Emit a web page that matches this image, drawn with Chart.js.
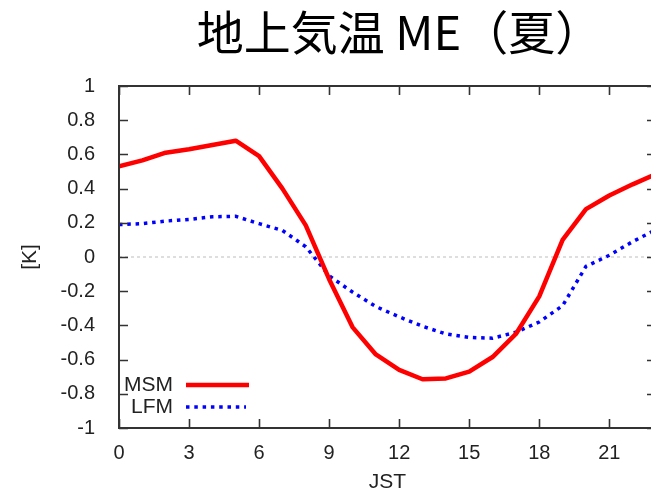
<!DOCTYPE html>
<html>
<head>
<meta charset="utf-8">
<script src="https://cdn.jsdelivr.net/npm/chart.js@4/dist/chart.umd.min.js"></script>
<style>
  html, body { margin: 0; padding: 0; background: #fff; overflow: hidden; }
  #wrap { width: 680px; height: 493px; }
</style>
</head>
<body>
<div id="wrap"><canvas id="chart" width="680" height="493"></canvas></div>
<script>
// 地上気温 ME (summer) – mean error by hour, MSM vs LFM

const chartTitle = "地上気温 ME（夏）";
const xTitle = "JST";
const yTitle = "[K]";
const seriesNames = ["MSM", "LFM"];

const hours = [0, 1, 2, 3, 4, 5, 6, 7, 8, 9, 10, 11, 12, 13, 14, 15, 16, 17, 18, 19, 20, 21, 22, 23];
const msm = [0.53, 0.565, 0.61, 0.63, 0.655, 0.68, 0.59, 0.40, 0.185, -0.13, -0.41, -0.57,
  -0.66, -0.715, -0.71, -0.67, -0.585, -0.45, -0.23, 0.10, 0.28, 0.36, 0.425, 0.485];
const lfm = [0.19, 0.195, 0.21, 0.22, 0.235, 0.238, 0.195, 0.155, 0.06, -0.11, -0.205, -0.29,
  -0.35, -0.405, -0.45, -0.47, -0.475, -0.44, -0.38, -0.285, -0.055, 0.01, 0.09, 0.16];

const xTicks = [0, 3, 6, 9, 12, 15, 18, 21];
const yTicks = [1, 0.8, 0.6, 0.4, 0.2, 0, -0.2, -0.4, -0.6, -0.8, -1];
const yTickLabels = ["1", "0.8", "0.6", "0.4", "0.2", "0", "-0.2", "-0.4", "-0.6", "-0.8", "-1"];

const textFont = '"Liberation Sans", Arial, sans-serif';
const textColor = "#222";

function toPoints(values) {
  return values.map((v, i) => ({ x: hours[i], y: v }));
}

// gnuplot-like frame: zero line, box, inward ticks on all sides, legend, title
const framePlugin = {
  id: "frame",
  beforeDatasetsDraw(chart) {
    const { ctx, chartArea, scales } = chart;
    const y0 = scales.y.getPixelForValue(0);
    ctx.save();
    ctx.strokeStyle = "#bdbdbd";
    ctx.lineWidth = 1;
    ctx.setLineDash([3, 3]);
    ctx.beginPath();
    ctx.moveTo(chartArea.left, y0);
    ctx.lineTo(chartArea.right, y0);
    ctx.stroke();
    ctx.restore();
  },
  afterDatasetsDraw(chart) {
    const { ctx, chartArea, scales } = chart;
    const { left, right, top, bottom } = chartArea;
    const tickLen = 9;

    ctx.save();
    ctx.strokeStyle = "#333";
    ctx.lineWidth = 1.6;
    ctx.beginPath();
    xTicks.forEach((v) => {
      const px = Math.round(scales.x.getPixelForValue(v)) + 0.5;
      ctx.moveTo(px, bottom);
      ctx.lineTo(px, bottom - tickLen);
      ctx.moveTo(px, top);
      ctx.lineTo(px, top + tickLen);
    });
    yTicks.forEach((v) => {
      const py = Math.round(scales.y.getPixelForValue(v)) + 0.5;
      ctx.moveTo(left, py);
      ctx.lineTo(left + tickLen, py);
      ctx.moveTo(right, py);
      ctx.lineTo(right - tickLen, py);
    });
    ctx.stroke();

    ctx.lineWidth = 2;
    ctx.strokeRect(left, top, right - left, bottom - top);

    // legend: label then line sample, bottom-left inside plot
    ctx.font = "21px " + textFont;
    ctx.textAlign = "right";
    ctx.textBaseline = "middle";
    const legendRows = [385, 407];
    const sampleEnds = [249, 246];
    chart.data.datasets.forEach((ds, i) => {
      const y = legendRows[i];
      ctx.fillStyle = textColor;
      ctx.fillText(ds.label, 173, y);
      ctx.strokeStyle = ds.borderColor;
      ctx.lineWidth = ds.borderWidth;
      ctx.lineCap = ds.borderCapStyle || "butt";
      ctx.setLineDash(ds.borderDash || []);
      ctx.beginPath();
      ctx.moveTo(186, y);
      ctx.lineTo(sampleEnds[i], y);
      ctx.stroke();
    });
    ctx.setLineDash([]);

    ctx.font = '47px "Noto Sans CJK JP", sans-serif';
    ctx.textAlign = "center";
    ctx.fillStyle = "#000";
    ctx.fillText(chartTitle, (left + right) / 2 + 12, 32);
    ctx.restore();
  },
};

new Chart(document.getElementById("chart").getContext("2d"), {
  type: "line",
  data: {
    datasets: [
      {
        label: seriesNames[0],
        data: toPoints(msm),
        borderColor: "#ff0000",
        borderWidth: 4.5,
        borderJoinStyle: "round",
        pointRadius: 0,
        tension: 0,
        fill: false,
      },
      {
        label: seriesNames[1],
        data: toPoints(lfm),
        borderColor: "#0000ff",
        borderWidth: 3.5,
        borderDash: [3.5, 4.8],
        borderCapStyle: "butt",
        pointRadius: 0,
        tension: 0,
        fill: false,
      },
    ],
  },
  options: {
    responsive: false,
    animation: false,
    layout: { padding: { top: 86, right: 24, bottom: 0, left: 0 } },
    plugins: {
      legend: { display: false },
      tooltip: { enabled: false },
    },
    scales: {
      x: {
        type: "linear",
        min: 0,
        max: 23,
        grid: { display: false },
        border: { display: false },
        afterBuildTicks: (s) => {
          s.ticks = xTicks.map((v) => ({ value: v }));
        },
        afterFit: (s) => {
          s.height = 65;
        },
        ticks: {
          autoSkip: false,
          maxRotation: 0,
          padding: 5,
          color: textColor,
          font: { family: textFont, size: 20 },
        },
        title: {
          display: true,
          text: xTitle,
          color: textColor,
          font: { family: textFont, size: 21, lineHeight: 1 },
          padding: { top: 0, bottom: 0.5 },
        },
      },
      y: {
        min: -1,
        max: 1,
        grid: { display: false },
        border: { display: false },
        afterBuildTicks: (s) => {
          s.ticks = yTicks.map((v) => ({ value: v }));
        },
        afterFit: (s) => {
          s.width = 119;
        },
        ticks: {
          autoSkip: false,
          padding: 16,
          color: textColor,
          font: { family: textFont, size: 20 },
          callback: (v) => yTickLabels[yTicks.indexOf(v)],
        },
        title: {
          display: true,
          text: yTitle,
          color: textColor,
          font: { family: textFont, size: 21, lineHeight: 1 },
          padding: { top: 19.5, bottom: 0 },
        },
      },
    },
  },
  plugins: [framePlugin],
});
</script>
</body>
</html>
